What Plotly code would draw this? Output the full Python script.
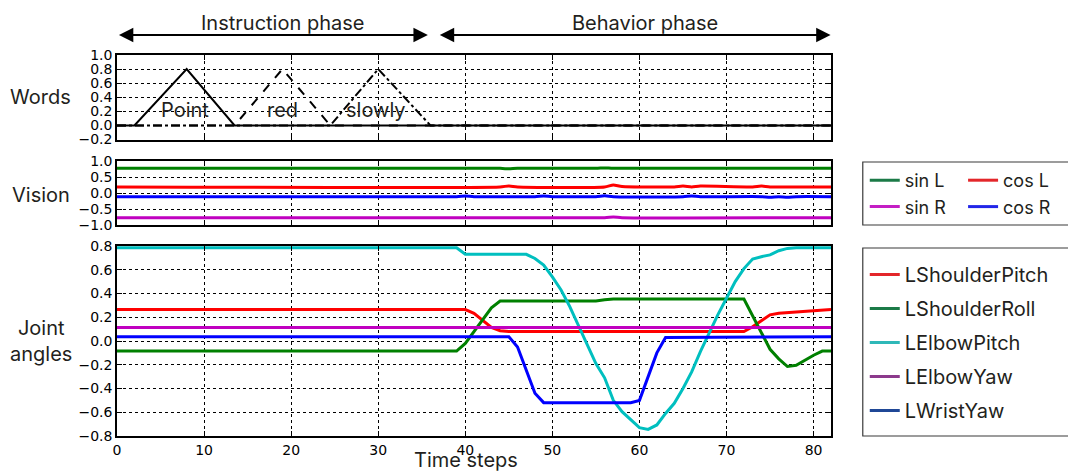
import plotly.graph_objects as go

# ---------------------------------------------------------------- data
# Word inputs (instruction phase): triangular activations
point_t = [0, 2, 8, 13.5, 82]
point_v = [0, 0, 0.8, 0, 0]
red_t = [0, 13.5, 19, 24.5, 82]
red_v = [0, 0, 0.8, 0, 0]
slowly_t = [0, 24.5, 30, 36, 82]
slowly_v = [0, 0, 0.8, 0, 0]
word_labels = ["Point", "red", "slowly"]
word_label_t = [7.8, 19, 29.8]
word_label_v = [0.22, 0.22, 0.22]

# Vision inputs
sin_l_t = [0, 44, 45, 46, 55, 56, 57, 82]
sin_l_v = [0.77, 0.77, 0.755, 0.77, 0.77, 0.785, 0.77, 0.77]
cos_l_t = [0, 44, 45, 46, 56, 57, 58, 64, 65, 66, 67, 73, 74, 75, 82]
cos_l_v = [0.19, 0.19, 0.22, 0.19, 0.19, 0.25, 0.2, 0.19, 0.215, 0.19, 0.215, 0.19, 0.22, 0.19, 0.19]
sin_r_t = [0, 56, 57, 58, 82]
sin_r_v = [-0.77, -0.77, -0.75, -0.77, -0.77]
cos_r_t = [0, 39, 40, 41, 48, 49, 50, 55, 56, 57, 65, 66, 67, 74, 75, 76, 77, 78, 82]
cos_r_v = [-0.115, -0.115, -0.095, -0.115, -0.115, -0.095, -0.115, -0.115, -0.085, -0.115,
           -0.115, -0.095, -0.115, -0.115, -0.135, -0.115, -0.135, -0.115, -0.115]

# Joint angles
lsp_t = [0, 40, 41, 42, 43, 44, 45, 72, 73, 74, 75, 76, 77, 78, 79, 80, 81, 82]
lsp_v = [0.265, 0.265, 0.233, 0.177, 0.115, 0.087, 0.08, 0.08, 0.12, 0.17, 0.22,
         0.233, 0.238, 0.242, 0.25, 0.256, 0.26, 0.265]
lsr_t = [0, 39, 40, 41, 42, 43, 44, 55, 56, 57, 72, 73, 74, 75, 76, 77, 78, 79, 80, 81, 82]
lsr_v = [-0.085, -0.085, -0.02, 0.08, 0.19, 0.28, 0.337, 0.337, 0.347, 0.354, 0.354,
         0.21, 0.065, -0.07, -0.15, -0.215, -0.205, -0.16, -0.12, -0.085, -0.085]
lep_t = [0, 39, 40, 47, 48, 49, 50, 51, 52, 53, 54, 55, 56, 57, 58, 59, 60, 61, 62,
         63, 64, 65, 66, 67, 68, 69, 70, 71, 72, 73, 74, 75, 76, 77, 78, 82]
lep_v = [0.785, 0.785, 0.73, 0.73, 0.695, 0.64, 0.54, 0.43, 0.29, 0.126, -0.03, -0.19,
         -0.31, -0.5, -0.595, -0.665, -0.73, -0.744, -0.707, -0.61, -0.525, -0.4, -0.26,
         -0.09, 0.066, 0.22, 0.36, 0.5, 0.61, 0.69, 0.71, 0.725, 0.76, 0.78, 0.785, 0.785]
ley_t = [0, 82]
ley_v = [0.114, 0.114]
lwy_t = [0, 45, 46, 47, 48, 49, 59, 60, 61, 62, 63, 82]
lwy_v = [0.036, 0.036, -0.05, -0.24, -0.44, -0.519, -0.519, -0.5, -0.3, -0.1, 0.03, 0.035]

vision_names = ["sin L", "cos L", "sin R", "cos R"]
joint_names = ["LShoulderPitch", "LShoulderRoll", "LElbowPitch", "LElbowYaw", "LWristYaw"]

x_ticks = [0, 10, 20, 30, 40, 50, 60, 70, 80]

# ---------------------------------------------------------------- style
TEXT_FONT = "Inter, 'Liberation Sans', Arial, sans-serif"
TICK_FONT = "'DejaVu Sans', sans-serif"
LABEL_SIZE = 20
TEXT_COLOR = "#231f20"

W, H = 1068, 473
ML, MR, MT, MB = 117, 232, 55, 37
PH = H - MT - MB


def py(px):
    """pixel row -> paper y"""
    return (H - MB - px) / PH


def pxx(px):
    """pixel column -> paper x"""
    return (px - ML) / (W - ML - MR)


fig = go.Figure()

# words
for t, v, dash in [(point_t, point_v, "solid"), (red_t, red_v, "dash"),
                   (slowly_t, slowly_v, "dashdot")]:
    fig.add_trace(go.Scatter(x=t, y=v, mode="lines", showlegend=False,
                             line=dict(color="black", width=2, dash=dash),
                             xaxis="x", yaxis="y", hoverinfo="skip"))

# vision
vis_series = [(sin_l_t, sin_l_v, "#008000"), (cos_l_t, cos_l_v, "#ff0000"),
              (sin_r_t, sin_r_v, "#c000c0"), (cos_r_t, cos_r_v, "#0000ff")]
for t, v, c in vis_series:
    fig.add_trace(go.Scatter(x=t, y=v, mode="lines", showlegend=False,
                             line=dict(color=c, width=3, shape="spline", smoothing=0.6),
                             xaxis="x2", yaxis="y2"))

# joints
joint_series = [(lsp_t, lsp_v, "#ff0000"), (lsr_t, lsr_v, "#008000"),
                (lep_t, lep_v, "#00bfbf"), (ley_t, ley_v, "#c000c0"),
                (lwy_t, lwy_v, "#0000ff")]
for t, v, c in joint_series:
    fig.add_trace(go.Scatter(x=t, y=v, mode="lines", showlegend=False,
                             line=dict(color=c, width=3),
                             xaxis="x3", yaxis="y3"))

# legend swatches (two columns for the vision block)
vis_legend_colors = ["#1b7a47", "#e3262a", "#c41ec4", "#2226e8"]
vis_legend_slot = ["legend2", "legend3", "legend2", "legend3"]
for name, c, lg in zip(vision_names, vis_legend_colors, vis_legend_slot):
    fig.add_trace(go.Scatter(x=[None], y=[None], mode="lines", name=name,
                             line=dict(color=c, width=3), legend=lg,
                             xaxis="x2", yaxis="y2"))
joint_legend_colors = ["#e3262a", "#1b7a47", "#2fb8b8", "#8c3a8c", "#1f4796"]
for i, (name, c) in enumerate(zip(joint_names, joint_legend_colors)):
    fig.add_trace(go.Scatter(x=[None], y=[None], mode="lines", name=name,
                             line=dict(color=c, width=3), legend="legend4",
                             legendgroup=f"j{i}", xaxis="x3", yaxis="y3"))

axis_common = dict(
    range=[0, 82], showline=True, linecolor="black", linewidth=1.5, mirror="ticks",
    ticks="inside", ticklen=5, tickcolor="black", tickwidth=1,
    showgrid=True, gridcolor="black", gridwidth=1, griddash="dot",
    zeroline=False, tickfont=dict(family=TICK_FONT, size=14, color="black"),
)

x_common = dict(axis_common, tickvals=x_ticks)

fig.update_layout(
    width=W, height=H, margin=dict(l=ML, r=MR, t=MT, b=MB),
    paper_bgcolor="white", plot_bgcolor="white",
    xaxis=dict(x_common, anchor="y", showticklabels=False),
    xaxis2=dict(x_common, anchor="y2", showticklabels=False, matches="x"),
    xaxis3=dict(x_common, anchor="y3", matches="x"),
    yaxis=dict(axis_common, range=[-0.2, 1.0], dtick=0.2, tickformat=".1f",
               domain=[py(139.5), 1.0], anchor="x"),
    yaxis2=dict(axis_common, range=[-1.0, 1.0], dtick=0.5, tickformat=".1f",
                domain=[py(225), py(161)], anchor="x2"),
    yaxis3=dict(axis_common, range=[-0.8, 0.8], dtick=0.2, tickformat=".1f",
                domain=[0, py(246)], anchor="x3"),
    legend2=dict(x=pxx(870), y=py(162), xanchor="left", yanchor="top",
                 font=dict(family=TEXT_FONT, size=18, color=TEXT_COLOR),
                 bgcolor="rgba(0,0,0,0)", itemwidth=30, tracegroupgap=0),
    legend3=dict(x=pxx(969), y=py(162), xanchor="left", yanchor="top",
                 font=dict(family=TEXT_FONT, size=18, color=TEXT_COLOR),
                 bgcolor="rgba(0,0,0,0)", itemwidth=30, tracegroupgap=0),
    legend4=dict(x=pxx(870), y=py(255), xanchor="left", yanchor="top",
                 font=dict(family=TEXT_FONT, size=20, color=TEXT_COLOR),
                 bgcolor="rgba(0,0,0,0)", itemwidth=30, tracegroupgap=5),
    showlegend=True,
)

# legend frames
for top, bottom in [(162, 225), (248, 436)]:
    fig.add_shape(type="rect", xref="paper", yref="paper",
                  x0=pxx(868), x1=pxx(1080), y0=py(bottom), y1=py(top),
                  line=dict(color="#3a3a3a", width=1.2), fillcolor="rgba(0,0,0,0)")

# word labels inside the top panel
for lab, t, v in zip(word_labels, word_label_t, word_label_v):
    fig.add_annotation(x=t, y=v, xref="x", yref="y", text=lab, showarrow=False,
                       xanchor="center", yanchor="middle",
                       font=dict(family=TEXT_FONT, size=LABEL_SIZE, color=TEXT_COLOR))

# row labels
for lab, yc in [("Words", 97), ("Vision", 195), ("Joint<br>angles", 341)]:
    fig.add_annotation(x=pxx(40), y=py(yc), xref="paper", yref="paper", text=lab,
                       showarrow=False, align="center", xanchor="center", yanchor="middle",
                       font=dict(family=TEXT_FONT, size=LABEL_SIZE, color=TEXT_COLOR))

# x-axis title
fig.add_annotation(x=pxx(468), y=py(460), xref="paper", yref="paper", text="Time steps",
                   showarrow=False, xanchor="center", yanchor="middle",
                   font=dict(family=TEXT_FONT, size=LABEL_SIZE, color=TEXT_COLOR))

# phase arrows
for t0, t1, label, tc in [(0.05, 35.7, "Instruction phase", 19.0),
                          (36.9, 81.95, "Behavior phase", 60.6)]:
    fig.add_annotation(x=t1, y=py(35), xref="x", yref="paper",
                       ax=t0, ay=0, axref="x", ayref="pixel",
                       showarrow=True, arrowhead=2, startarrowhead=2, arrowside="end+start",
                       arrowsize=1.6, startarrowsize=1.6, arrowwidth=1.8, arrowcolor="black",
                       text="")
    fig.add_annotation(x=tc, y=py(23), xref="x", yref="paper", text=label,
                       showarrow=False, xanchor="center", yanchor="middle",
                       font=dict(family=TEXT_FONT, size=LABEL_SIZE, color=TEXT_COLOR))

fig.write_html("out.html")
